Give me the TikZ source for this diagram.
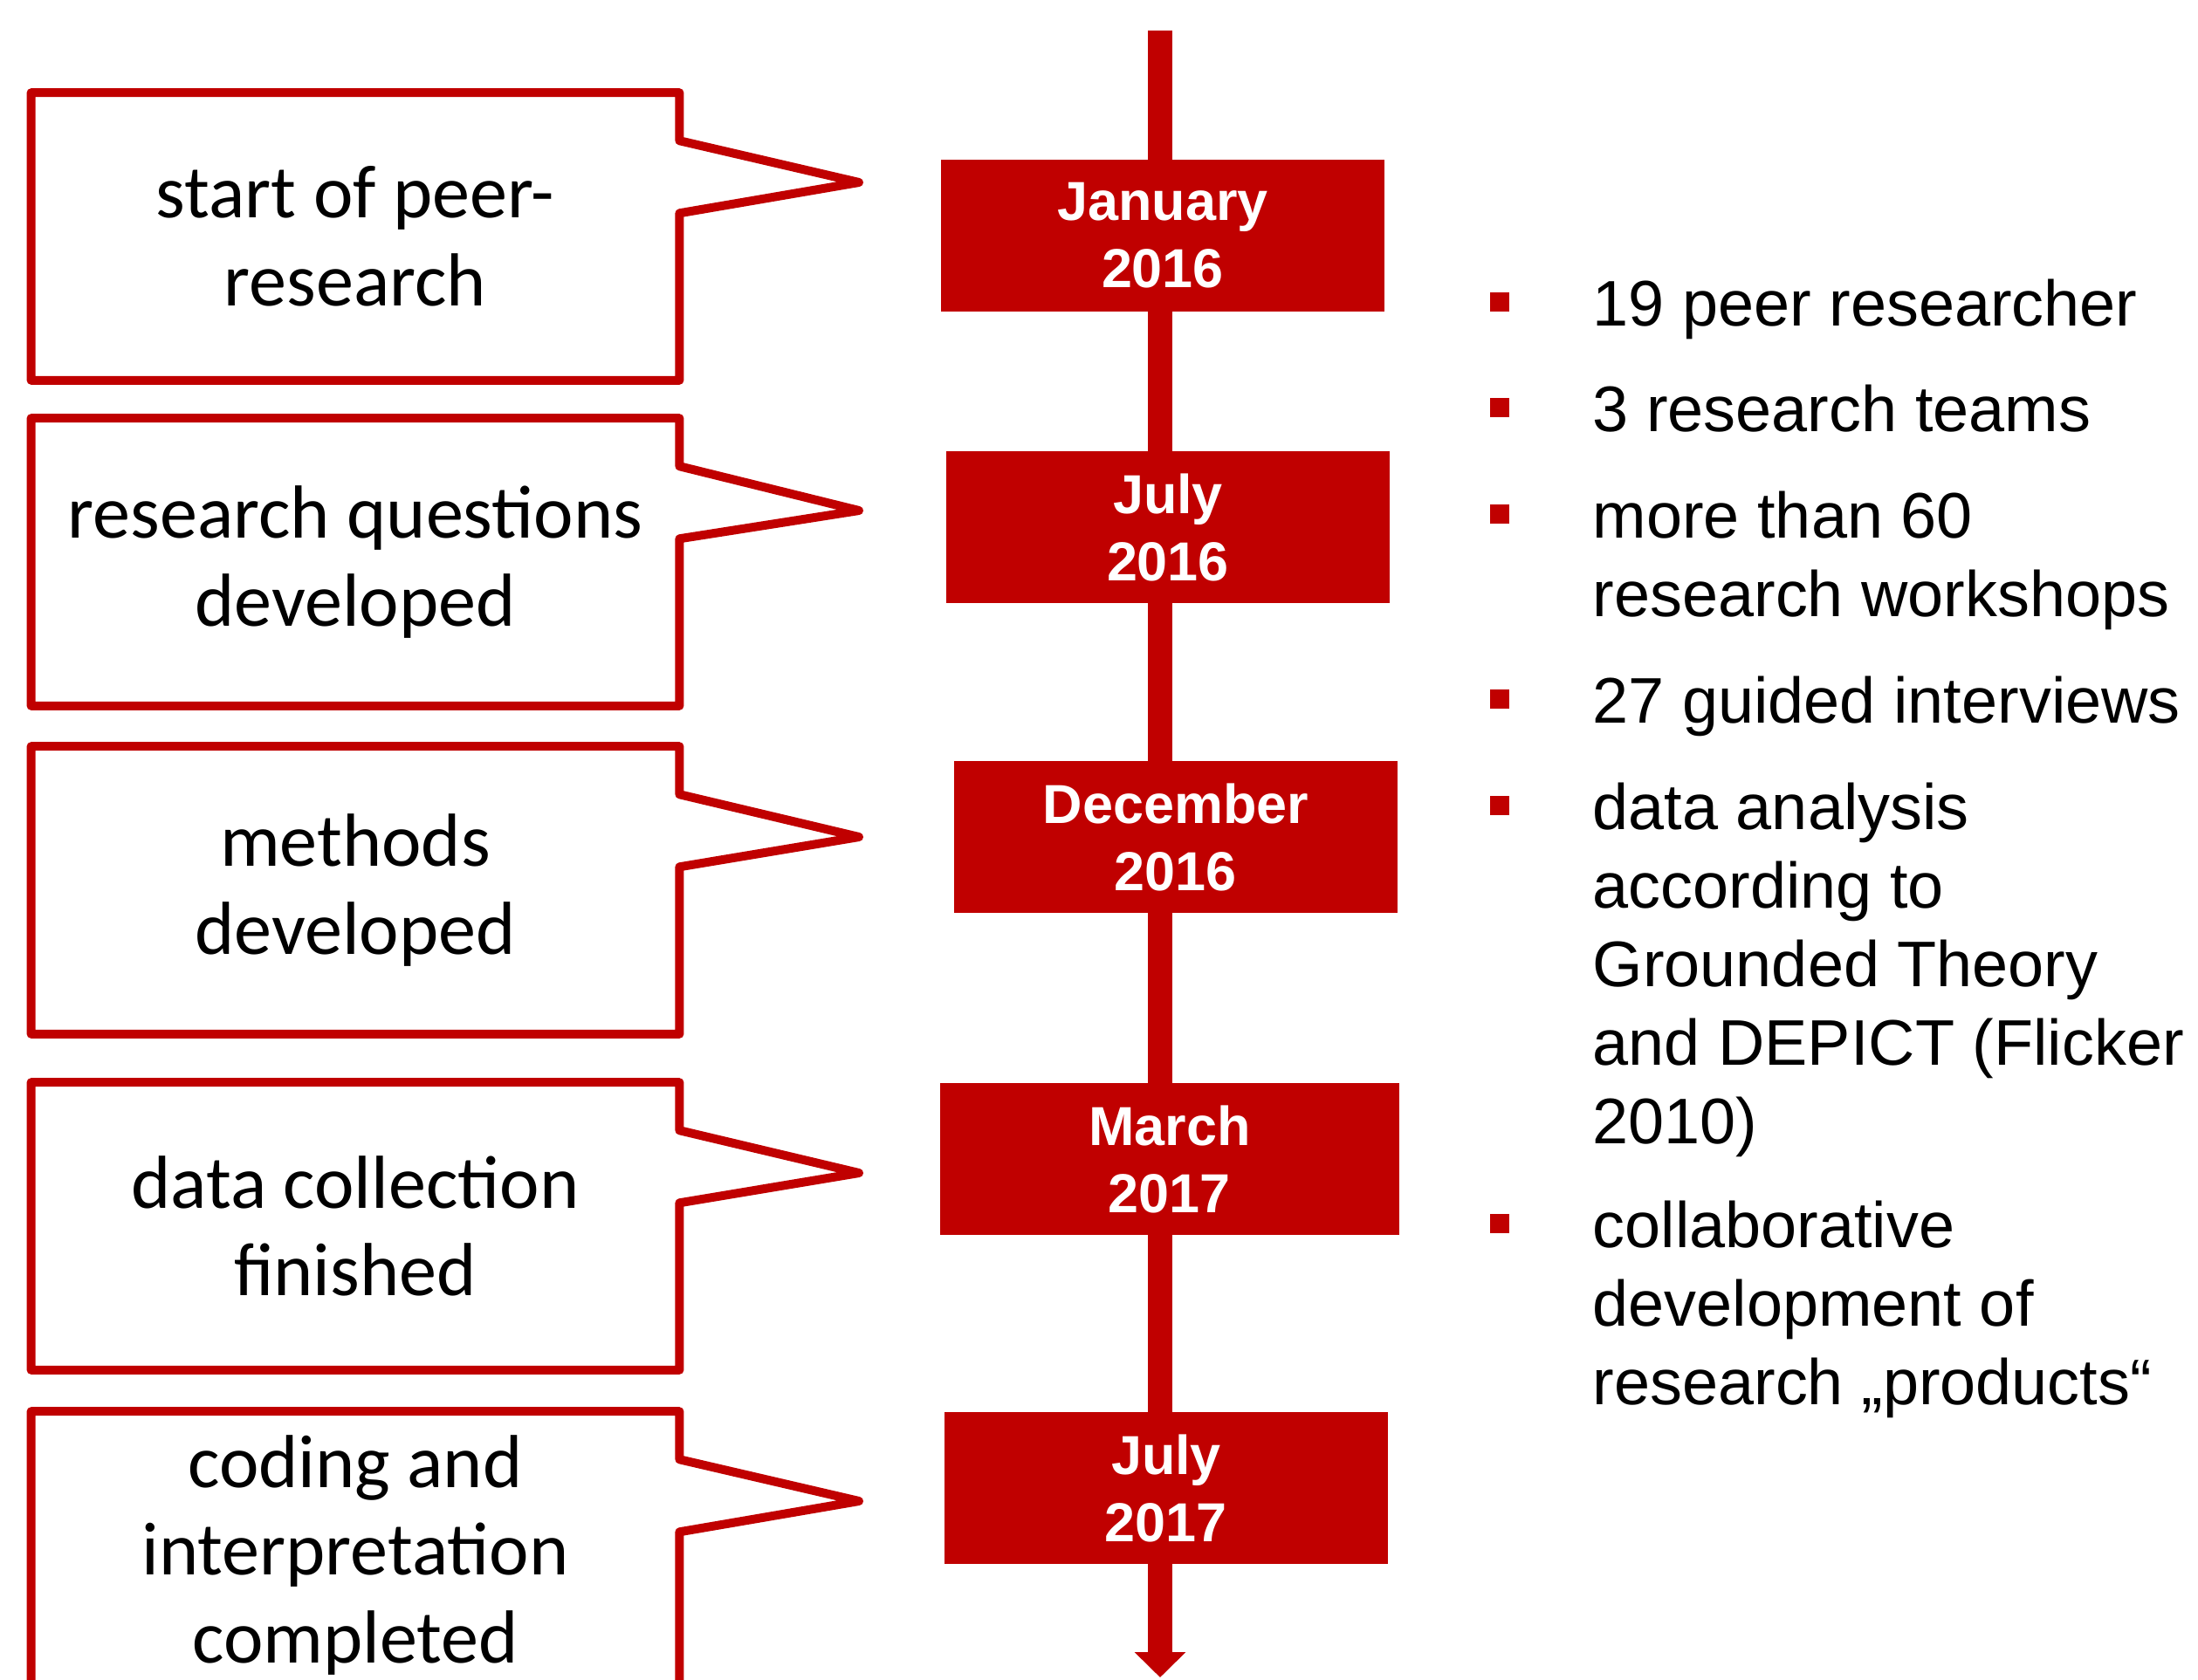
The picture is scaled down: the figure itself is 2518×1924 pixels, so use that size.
\documentclass[tikz,border=0pt]{standalone}
\usepackage{fontspec}
\setmainfont{Carlito}
\newfontfamily\arialfont{Liberation Sans}
\usetikzlibrary{arrows.meta}

\definecolor{unired}{RGB}{192,0,0}

\tikzset{
  callout/.style={minimum width=7.41cm, minimum height=3.28cm, inner sep=0pt,
    align=center, font=\fontsize{24.5pt}{28.6pt}\selectfont},
  calloutline/.style={draw=unired, line width=0.1cm, line join=round},
  datebox/.style={fill=unired, text=white, minimum width=5.08cm, minimum height=1.74cm,
    inner sep=0pt, align=center, font=\arialfont\bfseries\fontsize{17.9pt}{21.9pt}\selectfont},
  bulletsq/.style={fill=unired, minimum size=0.22cm, inner sep=0pt},
  itemtext/.style={anchor=base west, inner sep=0pt, font=\arialfont\fontsize{21pt}{25.6pt}\selectfont},
}

\begin{document}
\begin{tikzpicture}[x=0.01cm, y=-0.01cm]
  \path[use as bounding box, clip] (0,0) rectangle (2518,1924);

  % timeline
  \coordinate (tltop) at (1329,35);
  \coordinate (tlend) at (1329,1922);
  \draw[unired, line width=0.28cm, -{Triangle[length=0.29cm, width=0.57cm]}] (tltop) -- (tlend);

  % dates
  \node[datebox] (d1) at (1332,270) {January\\2016};
  \node[datebox] (d2) at (1338,604) {July\\2016};
  \node[datebox] (d3) at (1347,959) {December\\2016};
  \node[datebox, minimum width=5.25cm] (d4) at (1340,1328) {March\\2017};
  \node[datebox] (d5) at (1336,1705) {July\\2017};

  % callouts
  \node[callout] (c1) at (407,271) {start of peer-\\research};
  \node[callout] (c2) at (407,644) {research questions\\developed};
  \node[callout] (c3) at (407,1020) {methods\\developed};
  \node[callout] (c4) at (407,1405) {data collection\\finished};
  \node[callout] (c5) at (407,1782) {coding and\\interpretation\\completed};
  \foreach \c/\tip in {c1/209, c2/585, c3/959, c4/1344, c5/1720}
    \draw[calloutline] (\c.north west) -- (\c.north east) -- ([yshift=-0.55cm]\c.north east)
      -- (984,\tip) -- ([yshift=-1.38cm]\c.north east) -- (\c.south east) -- (\c.south west) -- cycle;

  % facts
  \foreach \n/\y in {1/373, 2/494, 3/616, 4/828, 5/950, 6/1429}
    \node[bulletsq] (b\n) at (1718,{\y-27}) {};
  \node[itemtext] (t1) at (1824,373) {19 peer researcher};
  \node[itemtext] (t2) at (1824,494) {3 research teams};
  \node[itemtext] (t3) at (1824,616) {\parbox[t]{7cm}{more than 60\\research workshops}};
  \node[itemtext] (t4) at (1824,828) {27 guided interviews};
  \node[itemtext] (t5) at (1824,950) {\parbox[t]{7cm}{data analysis\\according to\\Grounded Theory\\and DEPICT (Flicker\\2010)}};
  \node[itemtext] (t6) at (1824,1429) {\parbox[t]{7cm}{collaborative\\development of\\research „products“}};
\end{tikzpicture}
\end{document}
